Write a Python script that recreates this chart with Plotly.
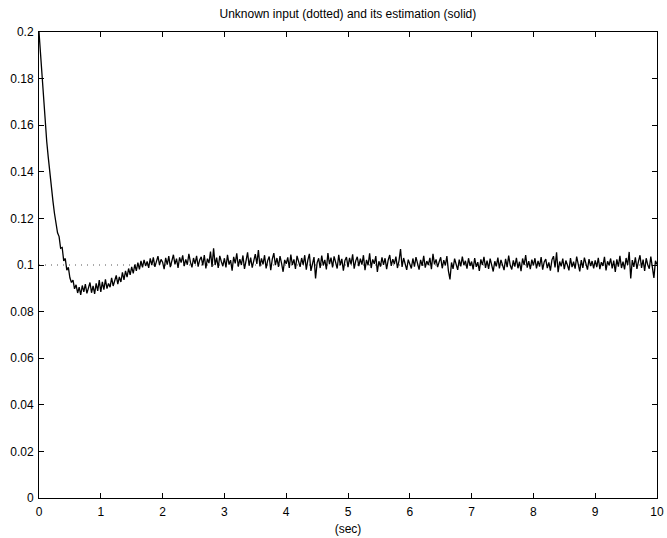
import numpy as np
import plotly.graph_objects as go

# Sample times (s), 0.025 s step
t = np.arange(401) * 0.025

# Estimated input, one list per second
est_s0 = [0.2000, 0.1900, 0.1805, 0.1705, 0.1615, 0.1530, 0.1462, 0.1392, 0.1330, 0.1275,
          0.1222, 0.1185, 0.1138, 0.1122, 0.1072, 0.1075, 0.1018, 0.1028, 0.0978, 0.0990,
          0.0945, 0.0925, 0.0935, 0.0898, 0.0915, 0.0880, 0.0905, 0.0872, 0.0912, 0.0885,
          0.0918, 0.0878, 0.0902, 0.0925, 0.0881, 0.0910, 0.0876, 0.0921, 0.0889, 0.0935]
est_s1 = [0.0885, 0.0928, 0.0894, 0.0938, 0.0899, 0.0921, 0.0905, 0.0945, 0.0910, 0.0932,
          0.0955, 0.0918, 0.0949, 0.0927, 0.0968, 0.0936, 0.0975, 0.0948, 0.0985, 0.0958,
          0.0992, 0.0964, 0.1002, 0.0975, 0.1010, 0.0981, 0.1018, 0.0990, 0.1022, 0.0996,
          0.1015, 0.0988, 0.1028, 0.1000, 0.1033, 0.0992, 0.1019, 0.1038, 0.1001, 0.1024]
est_s2 = [0.1012, 0.0982, 0.1031, 0.1002, 0.1038, 0.0991, 0.1018, 0.1044, 0.1003, 0.1027,
          0.0988, 0.1033, 0.1010, 0.1041, 0.0995, 0.1024, 0.1001, 0.1048, 0.1012, 0.0990,
          0.1030, 0.1005, 0.1039, 0.0993, 0.1022, 0.1035, 0.0998, 0.1043, 0.0985, 0.1027,
          0.1008, 0.1058, 0.0992, 0.1072, 0.1000, 0.1032, 0.0987, 0.1039, 0.1015, 0.0995]
est_s3 = [0.1029, 0.0990, 0.1044, 0.1002, 0.1021, 0.0976, 0.1035, 0.1007, 0.1050, 0.0993,
          0.1025, 0.1000, 0.1041, 0.0983, 0.1018, 0.1054, 0.0997, 0.1032, 0.0989, 0.1023,
          0.1047, 0.1005, 0.1064, 0.0994, 0.1028, 0.1003, 0.1042, 0.0985, 0.1019, 0.1036,
          0.0978, 0.1025, 0.1051, 0.0999, 0.1030, 0.0992, 0.1038, 0.1007, 0.0971, 0.1022]
est_s4 = [0.1005, 0.1033, 0.0988, 0.1045, 0.1000, 0.1024, 0.0983, 0.1039, 0.1009, 0.0992,
          0.1030, 0.1001, 0.1042, 0.0980, 0.1021, 0.1048, 0.0975, 0.1006, 0.1034, 0.0942,
          0.1009, 0.1029, 0.0987, 0.1040, 0.0998, 0.1022, 0.0981, 0.1051, 0.1004, 0.1032,
          0.0990, 0.1037, 0.1010, 0.0985, 0.1044, 0.0999, 0.1026, 0.0976, 0.1019, 0.1034]
est_s5 = [0.0991, 0.1031, 0.1003, 0.1046, 0.0984, 0.1018, 0.1035, 0.0995, 0.1027, 0.1002,
          0.1042, 0.0978, 0.1022, 0.0999, 0.1050, 0.0987, 0.1024, 0.1005, 0.1038, 0.0970,
          0.1016, 0.0993, 0.1033, 0.1001, 0.1029, 0.0982, 0.1021, 0.1043, 0.0996, 0.1025,
          0.1004, 0.1036, 0.0987, 0.1018, 0.1068, 0.0992, 0.1030, 0.1006, 0.0979, 0.1023]
est_s6 = [0.1001, 0.0985, 0.1028, 0.0993, 0.1034, 0.1007, 0.0980, 0.1022, 0.0996, 0.1039,
          0.0989, 0.1017, 0.1000, 0.1031, 0.0982, 0.1048, 0.1003, 0.1024, 0.0991, 0.1014,
          0.1033, 0.0986, 0.1021, 0.0998, 0.1038, 0.0975, 0.0938, 0.1011, 0.0983, 0.1027,
          0.1002, 0.0979, 0.1023, 0.0994, 0.1036, 0.0999, 0.1018, 0.0984, 0.1029, 0.0996]
est_s7 = [0.1015, 0.0981, 0.1030, 0.0992, 0.1012, 0.0975, 0.1024, 0.1000, 0.1035, 0.0988,
          0.1019, 0.0983, 0.1027, 0.0998, 0.0972, 0.1016, 0.0994, 0.1032, 0.0985, 0.1022,
          0.1003, 0.0978, 0.1026, 0.0991, 0.1040, 0.0999, 0.0981, 0.1020, 0.0993, 0.1031,
          0.0986, 0.1014, 0.0974, 0.1028, 0.1000, 0.1043, 0.0989, 0.1017, 0.0982, 0.1023]
est_s8 = [0.0998, 0.1029, 0.0985, 0.1018, 0.0993, 0.1034, 0.0980, 0.1013, 0.1025, 0.0987,
          0.1011, 0.0976, 0.1022, 0.1038, 0.0990, 0.1054, 0.0969, 0.1015, 0.0994, 0.1027,
          0.0982, 0.1019, 0.1000, 0.0977, 0.1030, 0.0991, 0.1014, 0.0984, 0.1036, 0.0997,
          0.0973, 0.1021, 0.0988, 0.1032, 0.1002, 0.0980, 0.1025, 0.0995, 0.1017, 0.0986]
est_s9 = [0.1020, 0.0991, 0.1031, 0.0982, 0.1012, 0.0996, 0.1035, 0.0977, 0.1016, 0.0999,
          0.1028, 0.0985, 0.1019, 0.0970, 0.1024, 0.0993, 0.1039, 0.0987, 0.1014, 0.0981,
          0.1030, 0.1000, 0.1056, 0.0942, 0.1021, 0.0992, 0.1033, 0.0983, 0.1015, 0.1042,
          0.0988, 0.1023, 0.0975, 0.1029, 0.1001, 0.0984, 0.1036, 0.0990, 0.0945, 0.1018,
          0.1002]

estimate = (est_s0 + est_s1 + est_s2 + est_s3 + est_s4 +
            est_s5 + est_s6 + est_s7 + est_s8 + est_s9)

# Unknown (true) input: constant 0.1
input_t = [0, 10]
input_val = [0.1, 0.1]

x_ticks = list(range(0, 11))
y_ticks = [0, 0.02, 0.04, 0.06, 0.08, 0.1, 0.12, 0.14, 0.16, 0.18, 0.2]
y_labels = ["0", "0.02", "0.04", "0.06", "0.08", "0.1", "0.12", "0.14", "0.16", "0.18", "0.2"]

fig = go.Figure()
fig.add_trace(go.Scatter(x=input_t, y=input_val, mode="lines",
                         line=dict(color="#555555", width=1, dash="1px,5px"),
                         hoverinfo="skip"))
fig.add_trace(go.Scatter(x=t, y=estimate, mode="lines",
                         line=dict(color="black", width=1.3)))

font_family = "Liberation Sans, Arial, Helvetica, sans-serif"
axis_common = dict(showgrid=False, zeroline=False, showline=True, linecolor="black",
                   linewidth=1, mirror="ticks", ticks="inside", ticklen=5,
                   automargin=False,
                   tickcolor="black", tickfont=dict(size=12, color="black", family=font_family))

fig.update_layout(
    width=667, height=538,
    margin=dict(l=39, r=10, t=32, b=40),
    paper_bgcolor="white", plot_bgcolor="white",
    showlegend=False,
    font=dict(family=font_family, size=12, color="black"),
    title=dict(text="Unknown input (dotted) and its estimation (solid)",
               x=0.5216, xanchor="center", y=0.982, yanchor="top",
               font=dict(size=12, color="black")),
)
fig.update_xaxes(range=[0, 10], tickvals=x_ticks, ticktext=[str(v) for v in x_ticks],
                 ticklabelstandoff=3,
                 title=dict(text="(sec)", standoff=6, font=dict(size=12)), **axis_common)
fig.update_yaxes(range=[0, 0.2], tickvals=y_ticks, ticktext=y_labels,
                 ticklabelstandoff=2, **axis_common)

fig.write_html("out.html")
